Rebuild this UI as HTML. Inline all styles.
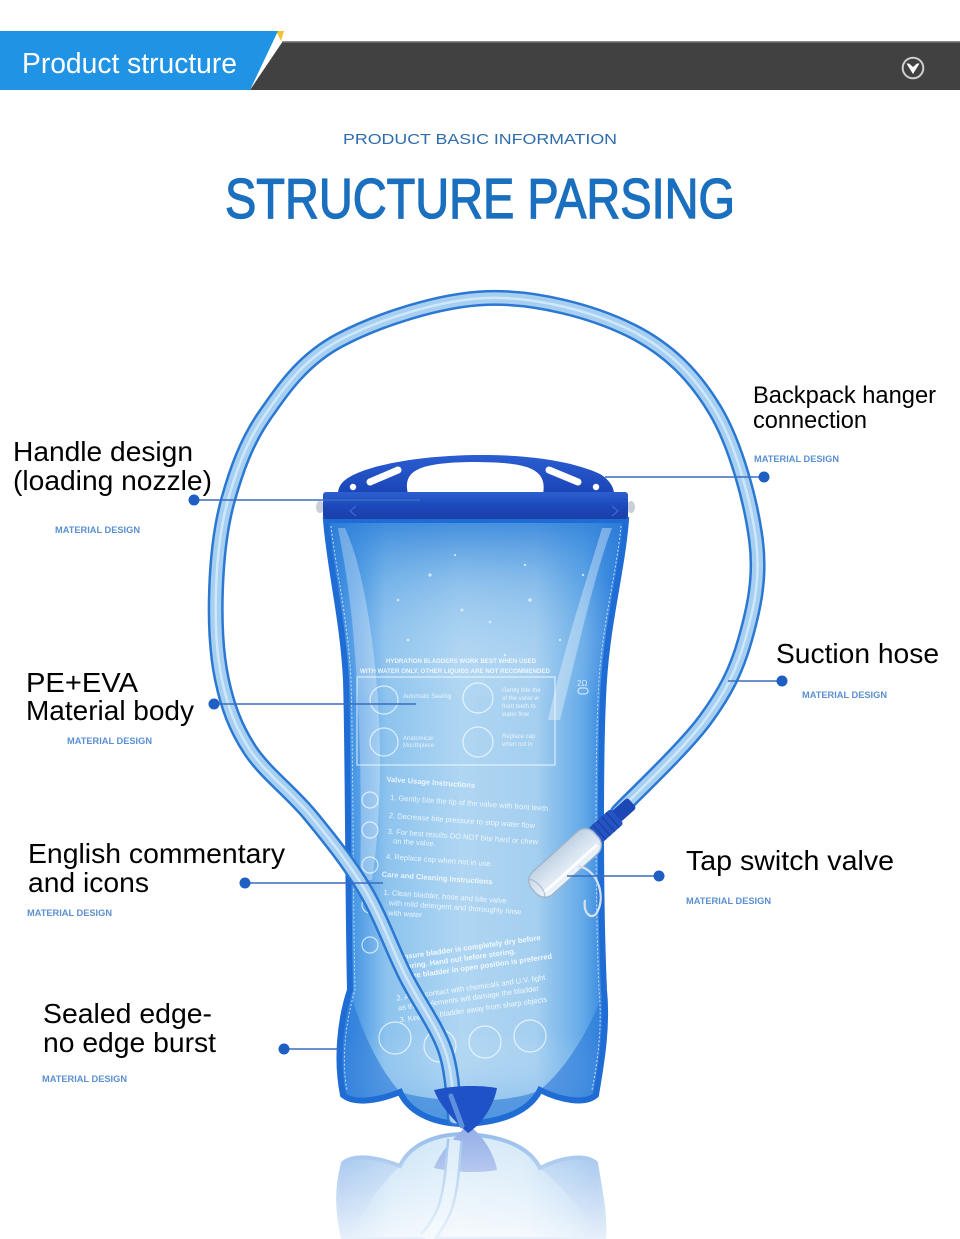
<!DOCTYPE html>
<html><head><meta charset="utf-8"><style>
html,body{margin:0;padding:0;background:#fff;width:960px;height:1239px;overflow:hidden;}
svg{display:block;}
</style></head><body>
<svg width="960" height="1239" viewBox="0 0 960 1239" xmlns="http://www.w3.org/2000/svg" font-family="'Liberation Sans', Arial, sans-serif">
<defs>
  <linearGradient id="bagH" x1="0" x2="1" y1="0" y2="0">
    <stop offset="0" stop-color="#1c68d2"/>
    <stop offset="0.07" stop-color="#3a8de2"/>
    <stop offset="0.2" stop-color="#8cc3ee"/>
    <stop offset="0.45" stop-color="#afd6f2"/>
    <stop offset="0.7" stop-color="#a5cff0"/>
    <stop offset="0.86" stop-color="#62a9e8"/>
    <stop offset="0.95" stop-color="#2a7bdc"/>
    <stop offset="1" stop-color="#1b63cf"/>
  </linearGradient>
  <linearGradient id="bagV" x1="0" x2="0" y1="0" y2="1">
    <stop offset="0" stop-color="#2d7fd9" stop-opacity="0.85"/>
    <stop offset="0.1" stop-color="#4b97e0" stop-opacity="0.35"/>
    <stop offset="0.3" stop-color="#ffffff" stop-opacity="0"/>
    <stop offset="0.85" stop-color="#ffffff" stop-opacity="0"/>
    <stop offset="1" stop-color="#3b8ee0" stop-opacity="0.4"/>
  </linearGradient>
  <linearGradient id="handleG" x1="0" x2="0" y1="0" y2="1">
    <stop offset="0" stop-color="#2a5ed2"/>
    <stop offset="1" stop-color="#1a44b6"/>
  </linearGradient>
  <linearGradient id="barG" x1="0" x2="0" y1="0" y2="1">
    <stop offset="0" stop-color="#2d5fd0"/>
    <stop offset="0.5" stop-color="#1d48bb"/>
    <stop offset="1" stop-color="#1a3fa8"/>
  </linearGradient>
  <linearGradient id="reflWhite" x1="0" x2="0" y1="1128" y2="1239" gradientUnits="userSpaceOnUse">
    <stop offset="0" stop-color="#fff" stop-opacity="0.1"/>
    <stop offset="0.5" stop-color="#fff" stop-opacity="0.45"/>
    <stop offset="1" stop-color="#fff" stop-opacity="0.8"/>
  </linearGradient>
  <linearGradient id="clearG" x1="0" x2="0" y1="0" y2="1">
    <stop offset="0" stop-color="#f4f8fc"/>
    <stop offset="0.5" stop-color="#dfe8f2"/>
    <stop offset="1" stop-color="#c4d3e3"/>
  </linearGradient>
</defs>

<!-- Header -->
<rect x="0" y="0" width="960" height="31" fill="#fff"/>
<polygon points="283,41 960,41 960,90 250,90" fill="#414141"/>
<line x1="283" y1="41.8" x2="960" y2="41.8" stroke="#8a8a8a" stroke-width="1.5"/>
<polygon points="276,31 284,31 281,41" fill="#f2c230"/>
<polygon points="0,31 278,31 250,90 0,90" fill="#2193e4"/>
<text x="22" y="73" font-size="29" fill="#ffffff" textLength="215" lengthAdjust="spacingAndGlyphs">Product structure</text>
<circle cx="913" cy="68" r="10.3" fill="none" stroke="#cfcfcf" stroke-width="2"/>
<path d="M906.5 63.5 L919.5 63.5 L913 74 Z" fill="#ffffff"/>
<path d="M909 63.5 L913 67 L917 63.5" fill="#414141"/>

<!-- Titles -->
<text x="343" y="144" font-size="15" fill="#2f6cac" textLength="274" lengthAdjust="spacingAndGlyphs">PRODUCT BASIC INFORMATION</text>
<text x="225" y="218" font-size="57" fill="#1a6fbe" stroke="#1a6fbe" stroke-width="1.3" textLength="510" lengthAdjust="spacingAndGlyphs">STRUCTURE PARSING</text>

<!-- Reflection (drawn directly, within frame) -->
<g opacity="0.55">
  <path d="M 343 1239 C 337 1210,336 1190,343 1163 C 355 1153,380 1158,400 1166 C 408 1148,430 1134,465 1134 C 505 1136,530 1148,540 1168 C 560 1158,585 1153,596 1163 C 600 1188,606 1215,604 1239 Z" fill="url(#bagH)" stroke="#2a78d8" stroke-width="4"/>
  <path d="M 343 1163 C 355 1153,380 1158,400 1166 C 380 1185,362 1210,350 1239 L 343 1239 C 337 1210,336 1190,343 1163 Z" fill="#2a78d8" opacity="0.5"/>
  <path d="M 596 1163 C 585 1153,560 1158,540 1168 C 560 1185,585 1210,598 1239 L 604 1239 C 606 1215,600 1188,596 1163 Z" fill="#2a78d8" opacity="0.5"/>
  <path d="M 434 1168 C 455 1173,480 1173,497 1170 C 494 1153,482 1134,468 1125 C 455 1136,440 1152,434 1168 Z" fill="#2a5fd0"/>
  <path d="M 455 1140 C 453 1152,453 1185,445 1208 C 440 1222,432 1232,426 1239" fill="none" stroke="#3a86d8" stroke-width="16"/>
  <path d="M 455 1140 C 453 1152,453 1185,445 1208 C 440 1222,432 1232,426 1239" fill="none" stroke="#b3d8f4" stroke-width="11"/>
</g>
<rect x="330" y="1128" width="285" height="111" fill="url(#reflWhite)"/>

<!-- Bag body -->
<path d="M 326 520 L 626 520 C 622 570,608 620,604 680 C 600 740,600 900,604 990 C 608 1030,600 1070,596 1095 C 585 1105,560 1100,540 1090 C 530 1110,505 1122,465 1124 C 430 1124,408 1110,400 1092 C 380 1100,355 1105,343 1095 C 336 1060,340 1020,350 990 C 348 900,348 740,346 680 C 343 620,330 570,326 520 Z" fill="url(#bagH)"/>
<path d="M 326 520 L 626 520 C 622 570,608 620,604 680 C 600 740,600 900,604 990 C 608 1030,600 1070,596 1095 C 585 1105,560 1100,540 1090 C 530 1110,505 1122,465 1124 C 430 1124,408 1110,400 1092 C 380 1100,355 1105,343 1095 C 336 1060,340 1020,350 990 C 348 900,348 740,346 680 C 343 620,330 570,326 520 Z" fill="url(#bagV)"/>
<!-- side folds (light) -->
<path d="M 345 528 C 360 560,372 620,378 700 C 382 760,380 830,372 880 L 360 880 C 362 800,360 700,352 620 C 348 580,342 550,338 528 Z" fill="#ffffff" opacity="0.3"/>
<path d="M 612 528 C 596 570,580 640,560 720 L 548 720 C 566 640,590 570,602 528 Z" fill="#ffffff" opacity="0.35"/>
<!-- bottom lobes darker -->
<path d="M 343 1095 C 336 1060,340 1020,350 990 C 360 1030,380 1070,400 1092 C 380 1100,355 1105,343 1095 Z" fill="#2a78d8" opacity="0.6"/>
<path d="M 596 1095 C 600 1070,608 1030,604 990 C 590 1030,565 1070,540 1090 C 560 1100,585 1105,596 1095 Z" fill="#2a78d8" opacity="0.6"/>
<path d="M 400 1092 C 408 1110,430 1124,465 1124 C 505 1122,530 1110,540 1090 C 510 1104,440 1104,400 1092 Z" fill="#3b86dc" opacity="0.7"/>
<!-- edge seal -->
<path d="M 326 520 L 626 520 C 622 570,608 620,604 680 C 600 740,600 900,604 990 C 608 1030,600 1070,596 1095 C 585 1105,560 1100,540 1090 C 530 1110,505 1122,465 1124 C 430 1124,408 1110,400 1092 C 380 1100,355 1105,343 1095 C 336 1060,340 1020,350 990 C 348 900,348 740,346 680 C 343 620,330 570,326 520 Z" fill="none" stroke="#1f6cd4" stroke-width="6"/>
<path d="M 331 526 C 336 570,348 620,351 680 C 353 740,353 900,355 990 C 346 1020,341 1060,347 1090 M 621 526 C 617 570,603 620,599 680 C 595 740,595 900,599 990 C 603 1030,596 1070,592 1090" fill="none" stroke="#d8ecfb" stroke-width="1" stroke-dasharray="2 2" opacity="0.85"/>

<!-- printed text on bag -->
<g fill="#ffffff" opacity="0.8" font-size="6.5" font-weight="bold">
  <text x="386" y="663" textLength="150" lengthAdjust="spacingAndGlyphs">HYDRATION BLADDERS WORK BEST WHEN USED</text>
  <text x="360" y="673" textLength="190" lengthAdjust="spacingAndGlyphs">WITH WATER ONLY. OTHER LIQUIDS ARE NOT RECOMMENDED</text>
</g>
<g fill="none" stroke="#ffffff" stroke-width="1.2" opacity="0.7">
  <rect x="357" y="677" width="198" height="88"/>
  <circle cx="384" cy="700" r="14"/>
  <circle cx="478" cy="698" r="15"/>
  <circle cx="384" cy="742" r="14"/>
  <circle cx="478" cy="742" r="15"/>
  <circle cx="370" cy="800" r="8"/>
  <circle cx="370" cy="830" r="8"/>
  <circle cx="370" cy="865" r="8"/>
  <circle cx="370" cy="905" r="8"/>
  <circle cx="370" cy="945" r="8"/>
  <circle cx="395" cy="1038" r="16"/>
  <circle cx="440" cy="1046" r="16"/>
  <circle cx="485" cy="1042" r="16"/>
  <circle cx="530" cy="1036" r="16"/>
  <rect x="578" y="688" width="10" height="6" rx="3"/>
</g>
<g fill="#ffffff" opacity="0.75" font-size="6">
  <text x="403" y="698">Automatic Sealing</text>
  <text x="403" y="740">Anatomical</text>
  <text x="403" y="747">Mouthpiece</text>
  <text x="502" y="692">Gently bite the</text>
  <text x="502" y="700">of the valve w</text>
  <text x="502" y="708">front teeth to</text>
  <text x="502" y="716">water flow</text>
  <text x="502" y="738">Replace cap</text>
  <text x="502" y="746">when not in</text>
  <text x="577" y="686" font-size="8">2Ω</text>
</g>
<g fill="#ffffff" opacity="0.8" font-size="7.5" transform="rotate(4 460 860)">
  <text x="381" y="787" font-weight="bold">Valve Usage Instructions</text>
  <text x="386" y="805">1. Gently bite the tip of the valve with front teeth</text>
  <text x="386" y="823">2. Decrease bite pressure to stop water flow</text>
  <text x="386" y="839">3. For best results DO NOT bite hard or chew</text>
  <text x="392" y="848">on the valve.</text>
  <text x="386" y="864">4. Replace cap when not in use.</text>
  <text x="383" y="882" font-weight="bold">Care and Cleaning Instructions</text>
  <text x="386" y="900">1. Clean bladder, hose and bite valve</text>
  <text x="392" y="910">with mild detergent and thoroughly rinse</text>
  <text x="392" y="920">with water</text>
</g>
<g fill="#ffffff" opacity="0.85" font-size="7.5" font-weight="bold" transform="rotate(-8 470 960)">
  <text x="400" y="950">Ensure bladder is completely dry before</text>
  <text x="400" y="960">storing. Hand out before storing.</text>
  <text x="400" y="970">Store bladder in open position is preferred</text>
  <text x="392" y="990" font-weight="normal">2. Avoid contact with chemicals and U.V. light</text>
  <text x="392" y="1000" font-weight="normal">as these elements will damage the bladder</text>
  <text x="392" y="1012" font-weight="normal">3. Keep the bladder away from sharp objects</text>
</g>
<!-- droplets -->
<g fill="#e6f3fc" opacity="0.8">
  <circle cx="430" cy="575" r="1.6"/><circle cx="462" cy="610" r="1.5"/><circle cx="530" cy="600" r="1.8"/>
  <circle cx="490" cy="622" r="1.3"/><circle cx="408" cy="640" r="1.4"/><circle cx="560" cy="640" r="1.2"/>
  <circle cx="525" cy="565" r="1.2"/><circle cx="398" cy="600" r="1.3"/><circle cx="583" cy="575" r="1.2"/>
  <circle cx="455" cy="555" r="1.1"/><circle cx="505" cy="655" r="1.3"/>
</g>

<!-- top bar & handle -->
<path d="M 338 494 C 338 484,345 478,360 472 C 410 452,540 446,600 474 C 610 480,614 488,614 494 Z" fill="url(#handleG)"/>
<path d="M 408 494 C 402 470,420 463,470 462 C 525 462,548 467,543 494 Z" fill="#ffffff"/>
<line x1="370" y1="482" x2="398" y2="470" stroke="#ffffff" stroke-width="7" stroke-linecap="round"/>
<line x1="549" y1="470" x2="578" y2="482" stroke="#ffffff" stroke-width="7" stroke-linecap="round"/>
<circle cx="353" cy="487" r="3.2" fill="#ffffff"/>
<circle cx="596" cy="487" r="3.2" fill="#ffffff"/>
<ellipse cx="320" cy="507" rx="4" ry="6" fill="#c9ced8"/>
<ellipse cx="631" cy="507" rx="4" ry="6" fill="#c9ced8"/>
<rect x="323" y="492" width="305" height="27" rx="3" fill="url(#barG)"/>
<path d="M 356 506 L 350 511 L 356 516 M 612 506 L 618 511 L 612 516" fill="none" stroke="#3b6ad8" stroke-width="1.2"/>

<!-- Hose -->
<g fill="none" stroke-linecap="round">
  <path d="M 455 1118 C 453.3 1106.7,453.3 1073.8,445 1050 C 436.7 1026.2,418.3 1001.7,405 975 C 391.7 948.3,380.8 916.7,365 890 C 349.2 863.3,329.2 838.3,310 815 C 290.8 791.7,264.7 772.5,250 750 C 235.3 727.5,227.7 706.7,222 680 C 216.3 653.3,215 620,216 590 C 217 560,219.8 529.2,228 500 C 236.2 470.8,246.3 441.7,265 415 C 283.7 388.3,303 359.5,340 340 C 377 320.5,438.7 299.7,487 298 C 535.3 296.3,592 311.3,630 330 C 668 348.7,694 375,715 410 C 736 445,751 501.7,756 540 C 761 578.3,753.5 610,745 640 C 736.5 670,725.8 691.7,705 720 C 684.2 748.3,634.2 795,618 812" stroke="#2b78d2" stroke-width="16"/>
  <path d="M 455 1118 C 453.3 1106.7,453.3 1073.8,445 1050 C 436.7 1026.2,418.3 1001.7,405 975 C 391.7 948.3,380.8 916.7,365 890 C 349.2 863.3,329.2 838.3,310 815 C 290.8 791.7,264.7 772.5,250 750 C 235.3 727.5,227.7 706.7,222 680 C 216.3 653.3,215 620,216 590 C 217 560,219.8 529.2,228 500 C 236.2 470.8,246.3 441.7,265 415 C 283.7 388.3,303 359.5,340 340 C 377 320.5,438.7 299.7,487 298 C 535.3 296.3,592 311.3,630 330 C 668 348.7,694 375,715 410 C 736 445,751 501.7,756 540 C 761 578.3,753.5 610,745 640 C 736.5 670,725.8 691.7,705 720 C 684.2 748.3,634.2 795,618 812" stroke="#a6cff1" stroke-width="11"/>
  <path d="M 455 1118 C 453.3 1106.7,453.3 1073.8,445 1050 C 436.7 1026.2,418.3 1001.7,405 975 C 391.7 948.3,380.8 916.7,365 890 C 349.2 863.3,329.2 838.3,310 815 C 290.8 791.7,264.7 772.5,250 750 C 235.3 727.5,227.7 706.7,222 680 C 216.3 653.3,215 620,216 590 C 217 560,219.8 529.2,228 500 C 236.2 470.8,246.3 441.7,265 415 C 283.7 388.3,303 359.5,340 340 C 377 320.5,438.7 299.7,487 298 C 535.3 296.3,592 311.3,630 330 C 668 348.7,694 375,715 410 C 736 445,751 501.7,756 540 C 761 578.3,753.5 610,745 640 C 736.5 670,725.8 691.7,705 720 C 684.2 748.3,634.2 795,618 812" stroke="#d9edfb" stroke-width="2.5" opacity="0.8"/>
</g>

<!-- bottom outlet -->
<path d="M 434 1090 C 455 1085,480 1085,497 1088 C 494 1105,482 1124,468 1133 C 455 1122,440 1106,434 1090 Z" fill="#1f52c6"/>
<path d="M 451 1096 L 462 1126" stroke="#5d8ee0" stroke-width="5" stroke-linecap="round"/>

<!-- Valve -->
<g transform="translate(626,808) rotate(138)">
  <rect x="-8" y="-7" width="22" height="14" rx="3" fill="#1c47b6"/>
  <rect x="12" y="-10" width="30" height="20" rx="3" fill="#2553c4"/>
  <g stroke="#1a3fa0" stroke-width="1.2">
    <line x1="18" y1="-10" x2="18" y2="10"/><line x1="24" y1="-10" x2="24" y2="10"/>
    <line x1="30" y1="-10" x2="30" y2="10"/><line x1="36" y1="-10" x2="36" y2="10"/>
  </g>
  <rect x="40" y="-15" width="84" height="30" rx="12" fill="url(#clearG)" stroke="#9fb2c8" stroke-width="1.3" opacity="0.95"/>
  <line x1="46" y1="-8" x2="118" y2="-8" stroke="#ffffff" stroke-width="3" opacity="0.9"/>
  <ellipse cx="120" cy="0" rx="4" ry="11" fill="none" stroke="#a9bacd" stroke-width="1"/>
</g>
<path d="M 578 866 C 600 870,606 900,596 914 C 590 920,583 912,585 900" fill="none" stroke="#d8e2ee" stroke-width="2.2"/>

<!-- Connector lines -->
<g stroke="#3a6cc0" stroke-width="1.4">
  <line x1="194" y1="500" x2="420" y2="500"/>
  <line x1="214" y1="704" x2="416" y2="704"/>
  <line x1="245" y1="883" x2="383" y2="883"/>
  <line x1="284" y1="1049" x2="342" y2="1049"/>
  <line x1="605" y1="477" x2="764" y2="477"/>
  <line x1="728" y1="681" x2="782" y2="681"/>
  <line x1="567" y1="876" x2="659" y2="876"/>
</g>
<g fill="#1f5fc4">
  <circle cx="194" cy="500" r="5.5"/>
  <circle cx="214" cy="704" r="5.5"/>
  <circle cx="245" cy="883" r="5.5"/>
  <circle cx="284" cy="1049" r="5.5"/>
  <circle cx="764" cy="477" r="5.5"/>
  <circle cx="782" cy="681" r="5.5"/>
  <circle cx="659" cy="876" r="5.5"/>
</g>

<!-- Labels -->
<g fill="#000000" font-size="28">
  <text x="13" y="461" textLength="180" lengthAdjust="spacingAndGlyphs">Handle design</text>
  <text x="13" y="490" textLength="199" lengthAdjust="spacingAndGlyphs">(loading nozzle)</text>
  <text x="26" y="692" textLength="112" lengthAdjust="spacingAndGlyphs">PE+EVA</text>
  <text x="26" y="720" textLength="168" lengthAdjust="spacingAndGlyphs">Material body</text>
  <text x="28" y="863" textLength="257" lengthAdjust="spacingAndGlyphs">English commentary</text>
  <text x="28" y="892" textLength="121" lengthAdjust="spacingAndGlyphs">and icons</text>
  <text x="43" y="1023" textLength="169" lengthAdjust="spacingAndGlyphs">Sealed edge-</text>
  <text x="43" y="1052" textLength="173" lengthAdjust="spacingAndGlyphs">no edge burst</text>
  <text x="776" y="663" textLength="163" lengthAdjust="spacingAndGlyphs">Suction hose</text>
  <text x="686" y="870" textLength="208" lengthAdjust="spacingAndGlyphs">Tap switch valve</text>
  <text x="753" y="403" font-size="24" textLength="183" lengthAdjust="spacingAndGlyphs">Backpack hanger</text>
  <text x="753" y="428" font-size="24" textLength="114" lengthAdjust="spacingAndGlyphs">connection</text>
</g>
<g fill="#5a8fd2" font-size="9" font-weight="bold">
  <text x="55" y="533" textLength="85" lengthAdjust="spacingAndGlyphs">MATERIAL DESIGN</text>
  <text x="67" y="744" textLength="85" lengthAdjust="spacingAndGlyphs">MATERIAL DESIGN</text>
  <text x="27" y="916" textLength="85" lengthAdjust="spacingAndGlyphs">MATERIAL DESIGN</text>
  <text x="42" y="1082" textLength="85" lengthAdjust="spacingAndGlyphs">MATERIAL DESIGN</text>
  <text x="754" y="462" textLength="85" lengthAdjust="spacingAndGlyphs">MATERIAL DESIGN</text>
  <text x="802" y="698" textLength="85" lengthAdjust="spacingAndGlyphs">MATERIAL DESIGN</text>
  <text x="686" y="904" textLength="85" lengthAdjust="spacingAndGlyphs">MATERIAL DESIGN</text>
</g>
</svg>
</body></html>
